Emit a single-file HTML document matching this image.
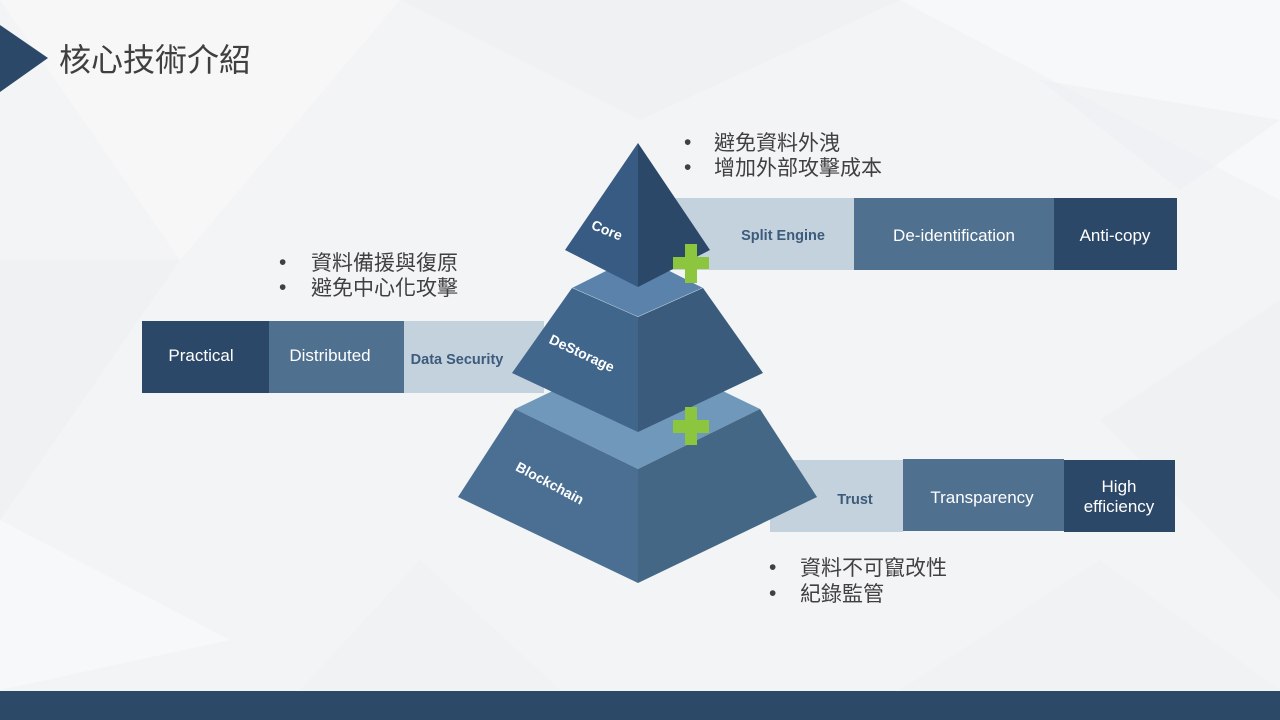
<!DOCTYPE html>
<html>
<head>
<meta charset="utf-8">
<style>
html,body{margin:0;padding:0;width:1280px;height:720px;overflow:hidden;background:#f3f4f6;}
svg{display:block;}
</style>
</head>
<body>
<svg width="1280" height="720" viewBox="0 0 1280 720" xmlns="http://www.w3.org/2000/svg">
  <!-- background -->
  <rect x="0" y="0" width="1280" height="720" fill="#f3f4f6"/>
  <polygon points="0,0 400,0 180,260" fill="#f7f8f9" opacity="0.8"/>
  <polygon points="400,0 900,0 640,120" fill="#eef0f2" opacity="0.7"/>
  <polygon points="900,0 1280,0 1280,200" fill="#f8f9fa" opacity="0.8"/>
  <polygon points="0,260 180,260 0,520" fill="#eceef1" opacity="0.6"/>
  <polygon points="0,520 230,640 0,690" fill="#f8f9fa" opacity="0.8"/>
  <polygon points="1280,300 1100,420 1280,600" fill="#eceef1" opacity="0.6"/>
  <polygon points="900,690 1100,560 1280,690" fill="#f0f1f3" opacity="0.7"/>
  <polygon points="300,690 420,560 560,690" fill="#eef0f2" opacity="0.6"/>
  <polygon points="1040,80 1280,120 1180,190" fill="#eceef1" opacity="0.5"/>

  <!-- title -->
  <polygon points="0,25 48,58 0,92" fill="#2b4868"/>
  <text x="59" y="71" font-family="'Liberation Sans','Noto Sans CJK TC',sans-serif" font-size="32" fill="#3f3f3f">核心技術介紹</text>

  <!-- bars -->
  <!-- top bar -->
  <rect x="660" y="198" width="194" height="72" fill="#c4d2de"/>
  <rect x="854" y="198" width="200" height="72" fill="#50708f"/>
  <rect x="1054" y="198" width="123" height="72" fill="#2c4868"/>
  <!-- left bar -->
  <rect x="142" y="321" width="127" height="72" fill="#2c4868"/>
  <rect x="269" y="321" width="135" height="72" fill="#50708f"/>
  <rect x="404" y="321" width="140" height="72" fill="#c4d2de"/>
  <!-- bottom bar -->
  <rect x="770" y="460" width="133" height="72" fill="#c4d2de"/>
  <rect x="903" y="459" width="161" height="72" fill="#50708f"/>
  <rect x="1064" y="460" width="111" height="72" fill="#2c4868"/>

  <!-- pyramid: blockchain -->
  <polygon points="515,409 638,350 760,409 638,469" fill="#7098bb"/>
  <polygon points="515,409 638,469 638,583 458,497" fill="#4a6f93"/>
  <polygon points="638,469 760,409 817,497 638,583" fill="#446786"/>
  <!-- destorage -->
  <polygon points="572,288 638,255 703,288 638,317" fill="#5a82aa"/>
  <polyline points="572,288 638,317 703,288" fill="none" stroke="#c9d8e6" stroke-width="1"/>
  <polygon points="572,288 638,317 638,432 512,373" fill="#41668c"/>
  <polygon points="638,317 703,288 763,373 638,432" fill="#3a5b7c"/>
  <!-- core -->
  <polygon points="638,143 565,250 638,287" fill="#375b82"/>
  <polygon points="638,143 710,250 638,287" fill="#2b4868"/>

  <!-- plus signs -->
  <g fill="#8cc63f">
    <rect x="673" y="257" width="36" height="12"/>
    <rect x="685" y="244" width="12" height="39"/>
    <rect x="673" y="420" width="36" height="13"/>
    <rect x="685" y="407" width="12" height="38"/>
  </g>

  <!-- pyramid labels -->
  <g font-family="'Liberation Sans','DejaVu Sans',sans-serif" font-size="14" font-weight="bold" fill="#ffffff" text-anchor="middle">
    <text x="607" y="235" transform="rotate(22 607 230)">Core</text>
    <text x="582" y="358" transform="rotate(25 582 353)">DeStorage</text>
    <text x="550" y="488" transform="rotate(28 550 483)">Blockchain</text>
  </g>

  <!-- bar labels -->
  <g font-family="'Liberation Sans','DejaVu Sans',sans-serif" text-anchor="middle">
    <text x="783" y="240" font-size="14.5" font-weight="bold" fill="#3d5b7b">Split Engine</text>
    <text x="954" y="241" font-size="17" fill="#ffffff">De-identification</text>
    <text x="1115" y="241" font-size="17" fill="#ffffff">Anti-copy</text>

    <text x="201" y="361" font-size="17" fill="#ffffff">Practical</text>
    <text x="330" y="361" font-size="17" fill="#ffffff">Distributed</text>
    <text x="457" y="364" font-size="14.5" font-weight="bold" fill="#3d5b7b">Data Security</text>

    <text x="855" y="504" font-size="14.5" font-weight="bold" fill="#3d5b7b">Trust</text>
    <text x="982" y="503" font-size="17" fill="#ffffff">Transparency</text>
    <text x="1119" y="492" font-size="17" fill="#ffffff">High</text>
    <text x="1119" y="512" font-size="17" fill="#ffffff">efficiency</text>
  </g>

  <!-- bullets -->
  <g font-family="'Liberation Sans','Noto Sans CJK TC',sans-serif" font-size="21" fill="#404040">
    <text x="684" y="149">•</text>
    <text x="714" y="150">避免資料外洩</text>
    <text x="684" y="174">•</text>
    <text x="714" y="175">增加外部攻擊成本</text>

    <text x="279" y="269">•</text>
    <text x="311" y="270">資料備援與復原</text>
    <text x="279" y="294">•</text>
    <text x="311" y="295">避免中心化攻擊</text>

    <text x="769" y="574">•</text>
    <text x="800" y="575">資料不可竄改性</text>
    <text x="769" y="600">•</text>
    <text x="800" y="601">紀錄監管</text>
  </g>

  <!-- bottom bar -->
  <rect x="0" y="691" width="1280" height="29" fill="#2c4968"/>
</svg>
</body>
</html>
